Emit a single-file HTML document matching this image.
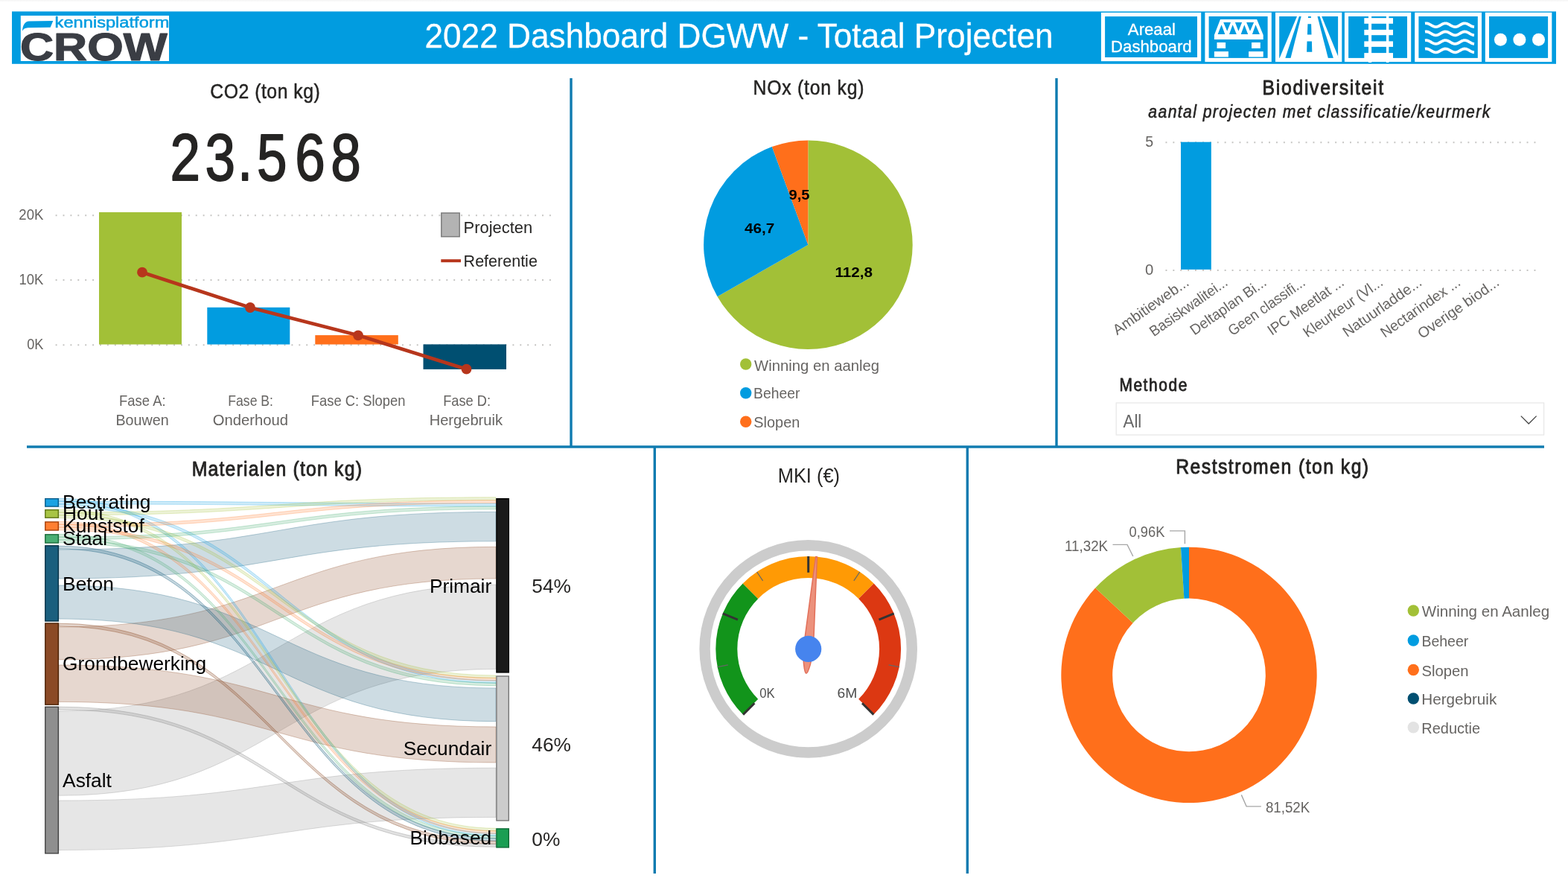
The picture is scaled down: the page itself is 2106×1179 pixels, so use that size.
<!DOCTYPE html>
<html lang="nl"><head><meta charset="utf-8"><title>2022 Dashboard DGWW - Totaal Projecten</title>
<style>
html,body{margin:0;padding:0;background:#fff;}
body{width:2106px;height:1179px;overflow:hidden;}
svg{display:block;font-family:"Liberation Sans", sans-serif;}
</style></head><body>
<svg width="2106" height="1179" viewBox="0 0 2106 1179">
<defs><linearGradient id="topsh" x1="0" y1="0" x2="0" y2="1"><stop offset="0" stop-color="#f4f4f4"/><stop offset="1" stop-color="#ffffff"/></linearGradient></defs>
<rect width="2106" height="1179" fill="#fff"/>
<rect width="2106" height="3" fill="url(#topsh)"/>

<g id="header">
<rect x="16" y="15.4" width="2074" height="70.4" fill="#019ce0"/>
<rect x="27.8" y="21" width="199.2" height="61" fill="#fff"/>
<path d="M71.3 28.1 L67.7 36.8 L37.5 37.2 C33.5 37.4 31 39 30 41.8 C30.5 33.5 33.5 28.8 39 28.5 Z" fill="#019ce0"/>
<text x="73.61" y="37.20" font-size="20.5" fill="#019ce0" textLength="153.75" lengthAdjust="spacingAndGlyphs" stroke="#019ce0" stroke-width="0.5" stroke-linejoin="round">kennisplatform</text>
<text x="27.04" y="80.70" font-size="51.5" fill="#3a3d44" textLength="197.62" lengthAdjust="spacingAndGlyphs" font-weight="bold" stroke="#3a3d44" stroke-width="1.2" stroke-linejoin="round">CROW</text>
<text x="570.48" y="63.90" font-size="45.6" fill="#fff" textLength="844.09" lengthAdjust="spacingAndGlyphs" stroke="#fff" stroke-width="0.3" stroke-linejoin="round">2022 Dashboard DGWW - Totaal Projecten</text>
<rect x="1481.50" y="19.50" width="129.10" height="60.10" fill="#019ce0" stroke="#fff" stroke-width="5.2"/>
<rect x="1621.00" y="19.40" width="84.20" height="61.10" fill="#019ce0" stroke="#fff" stroke-width="5.2"/>
<rect x="1715.60" y="19.40" width="84.10" height="61.10" fill="#019ce0" stroke="#fff" stroke-width="5.2"/>
<rect x="1808.50" y="19.40" width="84.10" height="61.10" fill="#019ce0" stroke="#fff" stroke-width="5.2"/>
<rect x="1902.80" y="19.40" width="84.60" height="61.10" fill="#019ce0" stroke="#fff" stroke-width="5.2"/>
<rect x="1997.40" y="19.40" width="84.30" height="61.10" fill="#019ce0" stroke="#fff" stroke-width="5.2"/>
<text x="1514.86" y="46.80" font-size="22.3" fill="#fff" textLength="64.02" lengthAdjust="spacingAndGlyphs" stroke="#fff" stroke-width="0.3" stroke-linejoin="round">Areaal</text>
<text x="1492.08" y="69.70" font-size="22.3" fill="#fff" textLength="108.55" lengthAdjust="spacingAndGlyphs" stroke="#fff" stroke-width="0.3" stroke-linejoin="round">Dashboard</text>
<path fill="#fff" fill-rule="evenodd" d="M1639 26.1 L1688.1 26.1 L1696.7 47 L1696.7 52.9 L1630.9 52.9 L1630.9 47 Z M1640.6 33.3 L1645.3 45.9 L1635.6 45.9 Z M1655.6 33.3 L1660.8 45.9 L1651 45.9 Z M1671.3 33.3 L1676.2 45.9 L1666.7 45.9 Z M1686.4 33.3 L1691.9 45.9 L1681.9 45.9 Z M1643.2 30.1 L1653 30.1 L1648.2 41.8 Z M1658.9 30.1 L1668.1 30.1 L1663.4 41.8 Z M1674.1 30.1 L1684.1 30.1 L1679 41.8 Z"/>
<rect x="1634.5" y="57" width="11.6" height="7.9" fill="#fff"/>
<rect x="1681" y="57" width="11.8" height="7.9" fill="#fff"/>
<rect x="1630.9" y="69.1" width="19.0" height="7.4" fill="#fff"/>
<rect x="1677.1" y="69.1" width="19.6" height="7.4" fill="#fff"/>
<path fill="#fff" d="M1742 22.1 L1744.9 22.1 L1726.3 78 L1718.6 78 Z"/>
<path fill="#fff" d="M1747.7 22.1 L1769.5 22.1 L1783.8 78 L1733.5 78 Z"/>
<path fill="#fff" d="M1772.6 22.1 L1775.2 22.1 L1797.1 75.5 L1797.1 78 L1790.9 78 Z"/>
<path fill="#019ce0" d="M1757 22.1 L1760.8 22.1 L1760.9 24 L1756.9 24 Z M1756.4 32.3 L1761.1 32.3 L1761.5 46.6 L1755.9 46.6 Z M1755.5 55.4 L1761.9 55.4 L1762.3 69.8 L1755.1 69.8 Z"/>
<rect x="1832.3" y="24.2" width="38.7" height="7.6" fill="#fff"/>
<rect x="1832.3" y="39.9" width="38.7" height="7.3" fill="#fff"/>
<rect x="1832.3" y="55.4" width="38.7" height="7.5" fill="#fff"/>
<rect x="1832.3" y="71.1" width="38.7" height="7.1" fill="#fff"/>
<rect x="1838" y="22" width="4.1" height="62" fill="#fff"/><rect x="1861.9" y="22" width="3.5" height="62" fill="#fff"/>
<polyline points="1914.0 31.46 1915.0 31.32 1916.0 31.32 1917.0 31.46 1918.0 31.73 1919.0 32.11 1920.0 32.59 1921.0 33.14 1922.0 33.71 1923.0 34.29 1924.0 34.83 1925.0 35.31 1926.0 35.69 1927.0 35.95 1928.0 36.09 1929.0 36.08 1930.0 35.93 1931.0 35.66 1932.0 35.26 1933.0 34.78 1934.0 34.23 1935.0 33.66 1936.0 33.08 1937.0 32.54 1938.0 32.07 1939.0 31.70 1940.0 31.44 1941.0 31.31 1942.0 31.33 1943.0 31.48 1944.0 31.76 1945.0 32.16 1946.0 32.65 1947.0 33.19 1948.0 33.77 1949.0 34.35 1950.0 34.88 1951.0 35.35 1952.0 35.72 1953.0 35.97 1954.0 36.09 1955.0 36.07 1956.0 35.91 1957.0 35.62 1958.0 35.22 1959.0 34.73 1960.0 34.18 1961.0 33.60 1962.0 33.03 1963.0 32.49 1964.0 32.03 1965.0 31.66 1966.0 31.42 1967.0 31.31 1968.0 31.33 1969.0 31.50 1970.0 31.80 1971.0 32.20 1972.0 32.70 1973.0 33.25 1974.0 33.83 1975.0 34.40 1976.0 34.93 1977.0 35.39 1978.0 35.75 1979.0 35.99 1980.0 36.10" fill="none" stroke="#fff" stroke-width="3.8"/>
<polyline points="1914.0 42.66 1915.0 42.52 1916.0 42.52 1917.0 42.66 1918.0 42.93 1919.0 43.31 1920.0 43.79 1921.0 44.34 1922.0 44.91 1923.0 45.49 1924.0 46.03 1925.0 46.51 1926.0 46.89 1927.0 47.15 1928.0 47.29 1929.0 47.28 1930.0 47.13 1931.0 46.86 1932.0 46.46 1933.0 45.98 1934.0 45.43 1935.0 44.86 1936.0 44.28 1937.0 43.74 1938.0 43.27 1939.0 42.90 1940.0 42.64 1941.0 42.51 1942.0 42.53 1943.0 42.68 1944.0 42.96 1945.0 43.36 1946.0 43.85 1947.0 44.39 1948.0 44.97 1949.0 45.55 1950.0 46.08 1951.0 46.55 1952.0 46.92 1953.0 47.17 1954.0 47.29 1955.0 47.27 1956.0 47.11 1957.0 46.82 1958.0 46.42 1959.0 45.93 1960.0 45.38 1961.0 44.80 1962.0 44.23 1963.0 43.69 1964.0 43.23 1965.0 42.86 1966.0 42.62 1967.0 42.51 1968.0 42.53 1969.0 42.70 1970.0 43.00 1971.0 43.40 1972.0 43.90 1973.0 44.45 1974.0 45.03 1975.0 45.60 1976.0 46.13 1977.0 46.59 1978.0 46.95 1979.0 47.19 1980.0 47.30" fill="none" stroke="#fff" stroke-width="3.8"/>
<polyline points="1914.0 54.26 1915.0 54.12 1916.0 54.12 1917.0 54.26 1918.0 54.53 1919.0 54.91 1920.0 55.39 1921.0 55.94 1922.0 56.51 1923.0 57.09 1924.0 57.63 1925.0 58.11 1926.0 58.49 1927.0 58.75 1928.0 58.89 1929.0 58.88 1930.0 58.73 1931.0 58.46 1932.0 58.06 1933.0 57.58 1934.0 57.03 1935.0 56.46 1936.0 55.88 1937.0 55.34 1938.0 54.87 1939.0 54.50 1940.0 54.24 1941.0 54.11 1942.0 54.13 1943.0 54.28 1944.0 54.56 1945.0 54.96 1946.0 55.45 1947.0 55.99 1948.0 56.57 1949.0 57.15 1950.0 57.68 1951.0 58.15 1952.0 58.52 1953.0 58.77 1954.0 58.89 1955.0 58.87 1956.0 58.71 1957.0 58.42 1958.0 58.02 1959.0 57.53 1960.0 56.98 1961.0 56.40 1962.0 55.83 1963.0 55.29 1964.0 54.83 1965.0 54.46 1966.0 54.22 1967.0 54.11 1968.0 54.13 1969.0 54.30 1970.0 54.60 1971.0 55.00 1972.0 55.50 1973.0 56.05 1974.0 56.63 1975.0 57.20 1976.0 57.73 1977.0 58.19 1978.0 58.55 1979.0 58.79 1980.0 58.90" fill="none" stroke="#fff" stroke-width="3.8"/>
<polyline points="1914.0 65.66 1915.0 65.52 1916.0 65.52 1917.0 65.66 1918.0 65.93 1919.0 66.31 1920.0 66.79 1921.0 67.34 1922.0 67.91 1923.0 68.49 1924.0 69.03 1925.0 69.51 1926.0 69.89 1927.0 70.15 1928.0 70.29 1929.0 70.28 1930.0 70.13 1931.0 69.86 1932.0 69.46 1933.0 68.98 1934.0 68.43 1935.0 67.86 1936.0 67.28 1937.0 66.74 1938.0 66.27 1939.0 65.90 1940.0 65.64 1941.0 65.51 1942.0 65.53 1943.0 65.68 1944.0 65.96 1945.0 66.36 1946.0 66.85 1947.0 67.39 1948.0 67.97 1949.0 68.55 1950.0 69.08 1951.0 69.55 1952.0 69.92 1953.0 70.17 1954.0 70.29 1955.0 70.27 1956.0 70.11 1957.0 69.82 1958.0 69.42 1959.0 68.93 1960.0 68.38 1961.0 67.80 1962.0 67.23 1963.0 66.69 1964.0 66.23 1965.0 65.86 1966.0 65.62 1967.0 65.51 1968.0 65.53 1969.0 65.70 1970.0 66.00 1971.0 66.40 1972.0 66.90 1973.0 67.45 1974.0 68.03 1975.0 68.60 1976.0 69.13 1977.0 69.59 1978.0 69.95 1979.0 70.19 1980.0 70.30" fill="none" stroke="#fff" stroke-width="3.8"/>
<circle cx="2015.4" cy="53.2" r="8.5" fill="#fff"/>
<circle cx="2040.9" cy="53.2" r="8.5" fill="#fff"/>
<circle cx="2066.5" cy="53.2" r="8.5" fill="#fff"/>
</g>
<g id="dividers" fill="#0f7bb0">
<rect x="36" y="598.3" width="2038" height="3.4"/>
<rect x="765.3" y="105" width="3.4" height="495"/>
<rect x="1417.3" y="105" width="3.4" height="495"/>
<rect x="877.6" y="600" width="3.4" height="573"/>
<rect x="1297.6" y="600" width="3.4" height="573"/>
</g>
<g id="co2">
<text transform="translate(282.24 131.7) scale(0.9 1)" letter-spacing="0.598" font-size="27.5" fill="#252423" stroke="#252423" stroke-width="0.5" stroke-linejoin="round">CO2 (ton kg)</text>
<text transform="translate(0 242.1) scale(0.8210 1)" x="278.25 335.69 388.70 420.29 482.69 541.27" y="0" font-size="88.7" fill="#252423" stroke="#252423" stroke-width="1.8" stroke-linejoin="round">23.568</text>
<line x1="74.65" y1="289.25" x2="741" y2="289.25" stroke="#c4c3c1" stroke-width="1.9" stroke-dasharray="1.9 8"/>
<line x1="74.65" y1="375.95" x2="741" y2="375.95" stroke="#c4c3c1" stroke-width="1.9" stroke-dasharray="1.9 8"/>
<line x1="74.65" y1="463.25" x2="741" y2="463.25" stroke="#c4c3c1" stroke-width="1.9" stroke-dasharray="1.9 8"/>
<text x="25.37" y="295.00" font-size="20" fill="#666462" textLength="33.04" lengthAdjust="spacingAndGlyphs">20K</text>
<text x="25.49" y="381.70" font-size="20" fill="#666462" textLength="32.92" lengthAdjust="spacingAndGlyphs">10K</text>
<text x="36.19" y="469.20" font-size="20" fill="#666462" textLength="22.21" lengthAdjust="spacingAndGlyphs">0K</text>
<rect x="133" y="285" width="111.0" height="177.5" fill="#a2c037"/>
<rect x="278.3" y="412.8" width="111.0" height="49.7" fill="#019ce0"/>
<rect x="423.3" y="450.1" width="111.5" height="12.4" fill="#ff6f1b"/>
<rect x="568.5" y="462.4" width="111.5" height="33.5" fill="#004f71"/>
<polyline points="191,365.7 336,413 481,450.3 626.5,495.7" fill="none" stroke="#b7361c" stroke-width="4.8"/>
<circle cx="191" cy="365.7" r="6.9" fill="#b7361c"/>
<circle cx="336" cy="413" r="6.9" fill="#b7361c"/>
<circle cx="481" cy="450.3" r="6.9" fill="#b7361c"/>
<circle cx="626.5" cy="495.7" r="6.9" fill="#b7361c"/>
<rect x="592.8" y="286" width="24.4" height="31.8" fill="#b3b3b3" stroke="#777" stroke-width="1.4"/>
<text x="622.60" y="312.60" font-size="21.3" fill="#252423" textLength="92.62" lengthAdjust="spacingAndGlyphs">Projecten</text>
<rect x="592.3" y="348.2" width="26.7" height="4" fill="#b7361c"/>
<text x="622.64" y="357.60" font-size="21.3" fill="#252423" textLength="99.22" lengthAdjust="spacingAndGlyphs">Referentie</text>
<text x="160.09" y="544.90" font-size="19.8" fill="#666462" textLength="62.49" lengthAdjust="spacingAndGlyphs">Fase A:</text>
<text x="155.48" y="570.60" font-size="19.8" fill="#666462" textLength="71.20" lengthAdjust="spacingAndGlyphs">Bouwen</text>
<text x="306.36" y="544.90" font-size="19.8" fill="#666462" textLength="60.55" lengthAdjust="spacingAndGlyphs">Fase B:</text>
<text x="285.74" y="570.60" font-size="19.8" fill="#666462" textLength="101.26" lengthAdjust="spacingAndGlyphs">Onderhoud</text>
<text x="417.79" y="544.90" font-size="19.8" fill="#666462" textLength="126.70" lengthAdjust="spacingAndGlyphs">Fase C: Slopen</text>
<text x="595.21" y="544.90" font-size="19.8" fill="#666462" textLength="63.76" lengthAdjust="spacingAndGlyphs">Fase D:</text>
<text x="576.65" y="570.60" font-size="19.8" fill="#666462" textLength="98.32" lengthAdjust="spacingAndGlyphs">Hergebruik</text>
</g>
<g id="nox">
<text transform="translate(1011.47 127) scale(0.9 1)" letter-spacing="0.887" font-size="27.5" fill="#252423" stroke="#252423" stroke-width="0.5" stroke-linejoin="round">NOx (ton kg)</text>
<path d="M1085.4 328.7 L1085.40 188.40 A140.3 140.3 0 1 1 963.55 398.25 Z" fill="#a2c037"/>
<path d="M1085.4 328.7 L963.55 398.25 A140.3 140.3 0 0 1 1036.87 197.06 Z" fill="#019ce0"/>
<path d="M1085.4 328.7 L1036.87 197.06 A140.3 140.3 0 0 1 1085.40 188.40 Z" fill="#ff6f1b"/>
<text x="1059.60" y="267.50" font-size="19" fill="#000" textLength="27.96" lengthAdjust="spacingAndGlyphs" font-weight="bold">9,5</text>
<text x="999.99" y="312.50" font-size="19" fill="#000" textLength="40.22" lengthAdjust="spacingAndGlyphs" font-weight="bold">46,7</text>
<text x="1121.40" y="371.50" font-size="19" fill="#000" textLength="50.54" lengthAdjust="spacingAndGlyphs" font-weight="bold">112,8</text>
<circle cx="1001.7" cy="489" r="7.7" fill="#a2c037"/>
<text x="1013.11" y="497.70" font-size="20.3" fill="#666462" textLength="167.90" lengthAdjust="spacingAndGlyphs">Winning en aanleg</text>
<circle cx="1001.7" cy="527.7" r="7.7" fill="#019ce0"/>
<text x="1012.12" y="535.40" font-size="20.3" fill="#666462" textLength="62.20" lengthAdjust="spacingAndGlyphs">Beheer</text>
<circle cx="1001.7" cy="566.3" r="7.7" fill="#ff6f1b"/>
<text x="1012.30" y="574.00" font-size="20.3" fill="#666462" textLength="62.00" lengthAdjust="spacingAndGlyphs">Slopen</text>
</g>
<g id="bio">
<text transform="translate(1695.47 126.9) scale(0.9 1)" letter-spacing="1.915" font-size="27.5" fill="#252423" stroke="#252423" stroke-width="0.9" stroke-linejoin="round">Biodiversiteit</text>
<text transform="translate(1542.32 157.8) scale(0.9 1)" letter-spacing="1.572" font-size="23.5" fill="#252423" stroke="#252423" stroke-width="0.6" stroke-linejoin="round" font-style="italic">aantal projecten met classificatie/keurmerk</text>
<line x1="1565.5" y1="191.25" x2="2064" y2="191.25" stroke="#c4c3c1" stroke-width="1.9" stroke-dasharray="1.9 8"/>
<line x1="1565.5" y1="363.05" x2="2064" y2="363.05" stroke="#c4c3c1" stroke-width="1.9" stroke-dasharray="1.9 8"/>
<text x="1538.21" y="197.40" font-size="19.5" fill="#666462" textLength="10.91" lengthAdjust="spacingAndGlyphs">5</text>
<text x="1537.91" y="368.70" font-size="19.5" fill="#666462" textLength="11.29" lengthAdjust="spacingAndGlyphs">0</text>
<rect x="1586" y="190.7" width="40.8" height="171.2" fill="#019ce0"/>
<text transform="translate(1596.8 383) rotate(-35)" x="-117.54" y="0" textLength="119.35" lengthAdjust="spacingAndGlyphs" font-size="19.8" fill="#666462">Ambitieweb...</text>
<text transform="translate(1648.9 383) rotate(-35)" x="-121.04" y="0" textLength="122.74" lengthAdjust="spacingAndGlyphs" font-size="19.8" fill="#666462">Basiskwalitei...</text>
<text transform="translate(1701.0 383) rotate(-35)" x="-117.98" y="0" textLength="119.73" lengthAdjust="spacingAndGlyphs" font-size="19.8" fill="#666462">Deltaplan Bi...</text>
<text transform="translate(1753.1 383) rotate(-35)" x="-119.53" y="0" textLength="121.22" lengthAdjust="spacingAndGlyphs" font-size="19.8" fill="#666462">Geen classifi...</text>
<text transform="translate(1805.2 383) rotate(-35)" x="-118.45" y="0" textLength="120.18" lengthAdjust="spacingAndGlyphs" font-size="19.8" fill="#666462">IPC Meetlat ...</text>
<text transform="translate(1857.3 383) rotate(-35)" x="-123.55" y="0" textLength="125.28" lengthAdjust="spacingAndGlyphs" font-size="19.8" fill="#666462">Kleurkeur (Vl...</text>
<text transform="translate(1909.4 383) rotate(-35)" x="-122.42" y="0" textLength="124.23" lengthAdjust="spacingAndGlyphs" font-size="19.8" fill="#666462">Natuurladde...</text>
<text transform="translate(1961.5 383) rotate(-35)" x="-123.80" y="0" textLength="125.58" lengthAdjust="spacingAndGlyphs" font-size="19.8" fill="#666462">Nectarindex ...</text>
<text transform="translate(2013.6 383) rotate(-35)" x="-126.33" y="0" textLength="128.13" lengthAdjust="spacingAndGlyphs" font-size="19.8" fill="#666462">Overige biod...</text>
<text transform="translate(1503.38 524.8) scale(0.9 1)" letter-spacing="1.731" font-size="23.3" fill="#252423" stroke="#252423" stroke-width="0.8" stroke-linejoin="round">Methode</text>
<rect x="1499.2" y="541" width="574.4" height="43" fill="#fff" stroke="#e8e8e8" stroke-width="1.3"/>
<text x="1508.56" y="574.20" font-size="23.5" fill="#666" textLength="24.73" lengthAdjust="spacingAndGlyphs">All</text>
<polyline points="2042.8,558.6 2053.2,569 2063.6,558.6" fill="none" stroke="#444" stroke-width="1.3"/>
</g>
<g id="rest">
<text transform="translate(1579.27 636) scale(0.9 1)" letter-spacing="1.625" font-size="27.5" fill="#252423" stroke="#252423" stroke-width="0.9" stroke-linejoin="round">Reststromen (ton kg)</text>
<path d="M1597.00 734.70 A171.7 171.7 0 1 1 1471.16 789.59 L1521.66 836.46 A102.8 102.8 0 1 0 1597.00 803.60 Z" fill="#ff6f1b"/>
<path d="M1471.16 789.59 A171.7 171.7 0 0 1 1585.97 735.05 L1590.39 803.81 A102.8 102.8 0 0 0 1521.66 836.46 Z" fill="#a2c037"/>
<path d="M1585.97 735.05 A171.7 171.7 0 0 1 1597.00 734.70 L1597.00 803.60 A102.8 102.8 0 0 0 1590.39 803.81 Z" fill="#019ce0"/>
<polyline points="1571,712.9 1591.4,712.9 1591.4,730.3" fill="none" stroke="#a6a6a6" stroke-width="1.4"/>
<polyline points="1494.5,731.4 1514,731.4 1521.8,747" fill="none" stroke="#a6a6a6" stroke-width="1.4"/>
<polyline points="1667.3,1067.4 1674.1,1082.9 1693.8,1082.9" fill="none" stroke="#a6a6a6" stroke-width="1.4"/>
<text x="1516.59" y="720.70" font-size="19.5" fill="#666462" textLength="47.82" lengthAdjust="spacingAndGlyphs">0,96K</text>
<text x="1429.97" y="739.60" font-size="19.5" fill="#666462" textLength="58.14" lengthAdjust="spacingAndGlyphs">11,32K</text>
<text x="1699.89" y="1090.70" font-size="19.5" fill="#666462" textLength="59.32" lengthAdjust="spacingAndGlyphs">81,52K</text>
<circle cx="1898.3" cy="820" r="7.7" fill="#a2c037"/>
<text x="1909.81" y="828.10" font-size="20.3" fill="#666462" textLength="171.31" lengthAdjust="spacingAndGlyphs">Winning en Aanleg</text>
<circle cx="1898.3" cy="860" r="7.7" fill="#019ce0"/>
<text x="1909.40" y="868.10" font-size="20.3" fill="#666462" textLength="62.82" lengthAdjust="spacingAndGlyphs">Beheer</text>
<circle cx="1898.3" cy="899.5" r="7.7" fill="#ff6f1b"/>
<text x="1909.58" y="907.60" font-size="20.3" fill="#666462" textLength="63.03" lengthAdjust="spacingAndGlyphs">Slopen</text>
<circle cx="1898.3" cy="938" r="7.7" fill="#004f71"/>
<text x="1909.31" y="946.10" font-size="20.3" fill="#666462" textLength="100.96" lengthAdjust="spacingAndGlyphs">Hergebruik</text>
<circle cx="1898.3" cy="976.7" r="7.7" fill="#e3e3e3"/>
<text x="1909.36" y="984.80" font-size="20.3" fill="#666462" textLength="78.72" lengthAdjust="spacingAndGlyphs">Reductie</text>
</g>
<g id="mki">
<text x="1044.72" y="647.90" font-size="28.5" fill="#252423" textLength="83.26" lengthAdjust="spacingAndGlyphs">MKI (€)</text>
<circle cx="1085.7" cy="871.4" r="139.1" fill="none" stroke="#cccccc" stroke-width="14.4"/>
<path d="M1007.99 949.11 A109.9 109.9 0 0 1 1007.99 793.69" fill="none" stroke="#12941b" stroke-width="29.0"/>
<path d="M1007.99 793.69 A109.9 109.9 0 0 1 1163.41 793.69" fill="none" stroke="#ff9a05" stroke-width="29.0"/>
<path d="M1163.41 793.69 A109.9 109.9 0 0 1 1163.41 949.11" fill="none" stroke="#dc3812" stroke-width="29.0"/>
<line x1="998.04" y1="959.67" x2="1013.40" y2="944.20" stroke="#333" stroke-width="3"/>
<line x1="970.77" y1="823.79" x2="990.91" y2="832.14" stroke="#333" stroke-width="3"/>
<line x1="1085.70" y1="747.00" x2="1085.70" y2="768.80" stroke="#333" stroke-width="3"/>
<line x1="1200.63" y1="823.79" x2="1180.49" y2="832.14" stroke="#333" stroke-width="3"/>
<line x1="1173.36" y1="959.67" x2="1158.00" y2="944.20" stroke="#333" stroke-width="3"/>
<line x1="963.69" y1="895.67" x2="977.81" y2="892.86" stroke="#666" stroke-width="1.2"/>
<line x1="1016.59" y1="767.97" x2="1024.59" y2="779.94" stroke="#666" stroke-width="1.2"/>
<line x1="1154.81" y1="767.97" x2="1146.81" y2="779.94" stroke="#666" stroke-width="1.2"/>
<line x1="1207.71" y1="895.67" x2="1193.59" y2="892.86" stroke="#666" stroke-width="1.2"/>
<text x="1020.15" y="936.90" font-size="18.6" fill="#4d4d4d" textLength="20.44" lengthAdjust="spacingAndGlyphs">0K</text>
<text x="1124.52" y="936.90" font-size="18.6" fill="#4d4d4d" textLength="26.76" lengthAdjust="spacingAndGlyphs">6M</text>
<g transform="translate(1085.7 871.4) rotate(5)"><path d="M-0.9 -124.2 L0.9 -124.2 L6.6 -1 C6.6 13 2.6 33 0 33 C-2.6 33 -6.6 13 -6.6 -1 Z" fill="#ec917c" stroke="#e2705a" stroke-width="1.5" stroke-linejoin="round"/></g>
<circle cx="1085.7" cy="871.4" r="17.6" fill="#4684ee"/>
</g>
<g id="mat">
<text transform="translate(257.67 638.8) scale(0.9 1)" letter-spacing="1.353" font-size="27.5" fill="#252423" stroke="#252423" stroke-width="0.9" stroke-linejoin="round">Materialen (ton kg)</text>
<path d="M79 955.0 C372.5 955.0 372.5 785.0 666 785.0 L666 898.4 C372.5 898.4 372.5 1068.3 79 1068.3 Z" fill="#8c8c8c" fill-opacity="0.22" stroke="#8c8c8c" stroke-opacity="0.3" stroke-width="1"/>
<path d="M79 1075.0 C372.5 1075.0 372.5 1031.2 666 1031.2 L666 1097.4 C372.5 1097.4 372.5 1141.5 79 1141.5 Z" fill="#8c8c8c" fill-opacity="0.22" stroke="#8c8c8c" stroke-opacity="0.3" stroke-width="1"/>
<path d="M79 841.9 C372.5 841.9 372.5 734.3 666 734.3 L666 777.0 C372.5 777.0 372.5 885.8 79 885.8 Z" fill="#8b4a26" fill-opacity="0.22" stroke="#8b4a26" stroke-opacity="0.3" stroke-width="1"/>
<path d="M79 893.0 C372.5 893.0 372.5 976.0 666 976.0 L666 1024.0 C372.5 1024.0 372.5 942.4 79 942.4 Z" fill="#8b4a26" fill-opacity="0.22" stroke="#8b4a26" stroke-opacity="0.3" stroke-width="1"/>
<path d="M79 738.0 C372.5 738.0 372.5 687.4 666 687.4 L666 726.8 C372.5 726.8 372.5 777.0 79 777.0 Z" fill="#1a5f7e" fill-opacity="0.22" stroke="#1a5f7e" stroke-opacity="0.3" stroke-width="1"/>
<path d="M79 786.0 C372.5 786.0 372.5 924.0 666 924.0 L666 968.7 C372.5 968.7 372.5 831.0 79 831.0 Z" fill="#1a5f7e" fill-opacity="0.22" stroke="#1a5f7e" stroke-opacity="0.3" stroke-width="1"/>
<path d="M79 669.3 C372.5 669.3 372.5 1118.9 666 1118.9 L666 1122.7 C372.5 1122.7 372.5 673.1 79 673.1 Z" fill="#1ba3e3" fill-opacity="0.22" stroke="#1ba3e3" stroke-opacity="0.3" stroke-width="1"/>
<path d="M79 673.1 C372.5 673.1 372.5 676.0 666 676.0 L666 679.8 C372.5 679.8 372.5 676.9 79 676.9 Z" fill="#1ba3e3" fill-opacity="0.22" stroke="#1ba3e3" stroke-opacity="0.3" stroke-width="1"/>
<path d="M79 676.9 C372.5 676.9 372.5 913.6 666 913.6 L666 917.4 C372.5 917.4 372.5 680.7 79 680.7 Z" fill="#1ba3e3" fill-opacity="0.22" stroke="#1ba3e3" stroke-opacity="0.3" stroke-width="1"/>
<path d="M79 684.2 C372.5 684.2 372.5 1112.3 666 1112.3 L666 1116.1 C372.5 1116.1 372.5 688.0 79 688.0 Z" fill="#a8c444" fill-opacity="0.22" stroke="#a8c444" stroke-opacity="0.3" stroke-width="1"/>
<path d="M79 688.0 C372.5 688.0 372.5 667.8 666 667.8 L666 671.6 C372.5 671.6 372.5 691.8 79 691.8 Z" fill="#a8c444" fill-opacity="0.22" stroke="#a8c444" stroke-opacity="0.3" stroke-width="1"/>
<path d="M79 691.8 C372.5 691.8 372.5 907.0 666 907.0 L666 910.8 C372.5 910.8 372.5 695.6 79 695.6 Z" fill="#a8c444" fill-opacity="0.22" stroke="#a8c444" stroke-opacity="0.3" stroke-width="1"/>
<path d="M79 700.4 C372.5 700.4 372.5 1115.6 666 1115.6 L666 1119.4 C372.5 1119.4 372.5 704.2 79 704.2 Z" fill="#ff7f32" fill-opacity="0.22" stroke="#ff7f32" stroke-opacity="0.3" stroke-width="1"/>
<path d="M79 704.2 C372.5 704.2 372.5 671.8 666 671.8 L666 675.6 C372.5 675.6 372.5 708.0 79 708.0 Z" fill="#ff7f32" fill-opacity="0.22" stroke="#ff7f32" stroke-opacity="0.3" stroke-width="1"/>
<path d="M79 708.0 C372.5 708.0 372.5 910.3 666 910.3 L666 914.1 C372.5 914.1 372.5 711.8 79 711.8 Z" fill="#ff7f32" fill-opacity="0.22" stroke="#ff7f32" stroke-opacity="0.3" stroke-width="1"/>
<path d="M79 717.3 C372.5 717.3 372.5 1122.2 666 1122.2 L666 1126.0 C372.5 1126.0 372.5 721.1 79 721.1 Z" fill="#4aaf74" fill-opacity="0.22" stroke="#4aaf74" stroke-opacity="0.3" stroke-width="1"/>
<path d="M79 721.1 C372.5 721.1 372.5 680.0 666 680.0 L666 683.8 C372.5 683.8 372.5 724.9 79 724.9 Z" fill="#4aaf74" fill-opacity="0.22" stroke="#4aaf74" stroke-opacity="0.3" stroke-width="1"/>
<path d="M79 724.9 C372.5 724.9 372.5 916.9 666 916.9 L666 920.7 C372.5 920.7 372.5 728.7 79 728.7 Z" fill="#4aaf74" fill-opacity="0.22" stroke="#4aaf74" stroke-opacity="0.3" stroke-width="1"/>
<path d="M79 733.2 C372.5 733.2 372.5 1125.5 666 1125.5 L666 1129.3 C372.5 1129.3 372.5 737.0 79 737.0 Z" fill="#1a5f7e" fill-opacity="0.25" stroke="#1a5f7e" stroke-opacity="0.4" stroke-width="1"/>
<path d="M79 837.2 C372.5 837.2 372.5 1129.5 666 1129.5 L666 1133.3 C372.5 1133.3 372.5 841.0 79 841.0 Z" fill="#8b4a26" fill-opacity="0.25" stroke="#8b4a26" stroke-opacity="0.4" stroke-width="1"/>
<path d="M79 949.2 C372.5 949.2 372.5 1133.5 666 1133.5 L666 1137.3 C372.5 1137.3 372.5 953.0 79 953.0 Z" fill="#8c8c8c" fill-opacity="0.25" stroke="#8c8c8c" stroke-opacity="0.4" stroke-width="1"/>
<rect x="60.800000000000004" y="669.7" width="17.5" height="10.4" fill="#1ba3e3" stroke="#0a5c8a" stroke-width="1.4"/>
<rect x="60.800000000000004" y="684.7" width="17.5" height="10.5" fill="#a8c444" stroke="#5f7518" stroke-width="1.4"/>
<rect x="60.800000000000004" y="700.9000000000001" width="17.5" height="11.1" fill="#ff7f32" stroke="#a5400a" stroke-width="1.4"/>
<rect x="60.800000000000004" y="717.8000000000001" width="17.5" height="11.2" fill="#4aaf74" stroke="#1a6b3a" stroke-width="1.4"/>
<rect x="60.800000000000004" y="732.8000000000001" width="17.5" height="101.2" fill="#1a5f7e" stroke="#0a3347" stroke-width="1.4"/>
<rect x="60.800000000000004" y="837.0" width="17.5" height="109.2" fill="#8b4a26" stroke="#4d2408" stroke-width="1.4"/>
<rect x="60.800000000000004" y="949.3000000000001" width="17.5" height="196.6" fill="#8f8f8f" stroke="#444" stroke-width="1.4"/>
<rect x="666.9000000000001" y="669.7" width="16.400000000000002" height="233.2" fill="#1a1a1a" stroke="#000" stroke-width="1.4"/>
<rect x="666.9000000000001" y="908.0" width="16.400000000000002" height="193.9" fill="#cccccc" stroke="#777" stroke-width="1.4"/>
<rect x="666.9000000000001" y="1112.9" width="16.400000000000002" height="25.0" fill="#1a9e53" stroke="#0d6a35" stroke-width="1.4"/>
<text x="84.10" y="683.40" font-size="26.3" fill="#000">Bestrating</text>
<text x="84.10" y="698.30" font-size="26.3" fill="#000">Hout</text>
<text x="84.10" y="715.20" font-size="26.3" fill="#000">Kunststof</text>
<text x="84.10" y="732.20" font-size="26.3" fill="#000">Staal</text>
<text x="84.10" y="792.90" font-size="26.3" fill="#000">Beton</text>
<text x="84.10" y="899.80" font-size="26.3" fill="#000">Grondbewerking</text>
<text x="84.10" y="1056.80" font-size="26.3" fill="#000">Asfalt</text>
<text x="660.20" y="796.00" font-size="26.3" fill="#000" text-anchor="end">Primair</text>
<text x="660.20" y="1013.90" font-size="26.3" fill="#000" text-anchor="end">Secundair</text>
<text x="660.20" y="1134.00" font-size="26.3" fill="#000" text-anchor="end">Biobased</text>
<text x="714.30" y="796.00" font-size="26.3" fill="#252423">54%</text>
<text x="714.30" y="1009.40" font-size="26.3" fill="#252423">46%</text>
<text x="714.30" y="1136.20" font-size="26.3" fill="#252423">0%</text>
</g>
</svg></body></html>
